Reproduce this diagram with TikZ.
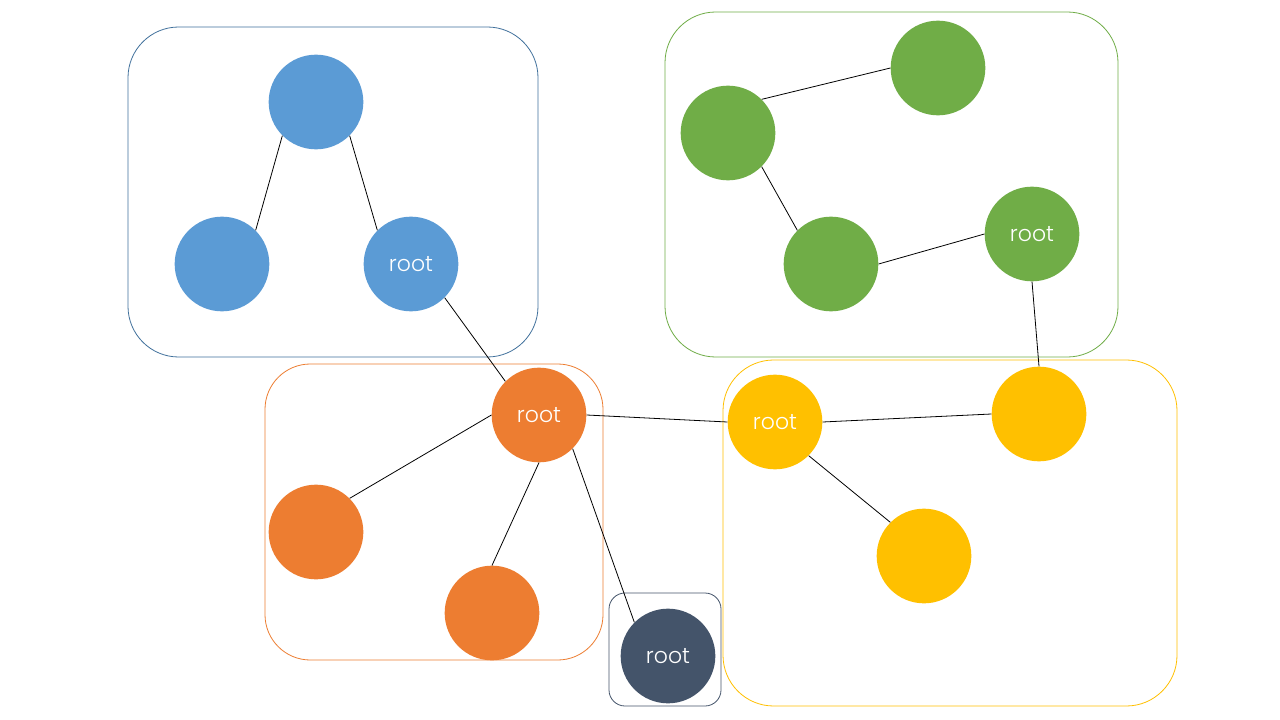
\documentclass[tikz,border=0pt]{standalone}
\usepackage{fontspec}
\setmainfont{Poppins}[UprightFont=* Light]
\definecolor{cblue}{HTML}{5B9BD5}
\definecolor{cbluedark}{HTML}{41719C}
\definecolor{corange}{HTML}{ED7D31}
\definecolor{cgreen}{HTML}{70AD47}
\definecolor{cyellow}{HTML}{FFC000}
\definecolor{cslate}{HTML}{44546A}
\begin{document}
\begin{tikzpicture}[x=0.75pt,y=-0.75pt,
  vert/.style={circle,inner sep=0pt,minimum size=71pt,text=white,
    font=\fontsize{16.5}{19}\selectfont},
  group/.style={draw,line width=0.6pt,rounded corners=#1},
  link/.style={draw=black,line width=0.6pt}]
\useasboundingbox[fill=white] (0,0) rectangle (1280,720);

% group frames
\draw[group=38pt,cbluedark] (128,27) rectangle (538,357);
\draw[group=38pt,cgreen] (665,12) rectangle (1118,357);
\draw[group=34pt,corange] (265,364) rectangle (603,660);
\draw[group=12pt,cslate] (609,593) rectangle (721,706);
\draw[group=38pt,cyellow] (723,360) rectangle (1177,706);

% blue tree
\node[vert,fill=cblue] (b1) at (316,102) {};
\node[vert,fill=cblue] (b2) at (222,264) {};
\node[vert,fill=cblue] (b3) at (411,264) {root};

% green tree
\node[vert,fill=cgreen] (g1) at (938,68) {};
\node[vert,fill=cgreen] (g2) at (728,133) {};
\node[vert,fill=cgreen] (g3) at (831,264) {};
\node[vert,fill=cgreen] (g4) at (1032,234) {root};

% orange tree
\node[vert,fill=corange] (o1) at (539,415) {root};
\node[vert,fill=corange] (o2) at (316,532) {};
\node[vert,fill=corange] (o3) at (492,613) {};

% single slate node
\node[vert,fill=cslate] (s1) at (668,656) {root};

% yellow tree
\node[vert,fill=cyellow] (y1) at (775,422) {root};
\node[vert,fill=cyellow] (y2) at (1039,414) {};
\node[vert,fill=cyellow] (y3) at (924,556) {};

% connectors, joined at the circles' connection points
\draw[link] (b1.south west) -- (b2.north east);
\draw[link] (b1.south east) -- (b3.north west);
\draw[link] (b3.south east) -- (o1.north west);
\draw[link] (o1.west) -- (o2.north east);
\draw[link] (o1.south) -- (o3.north);
\draw[link] (o1.south east) -- (s1.north west);
\draw[link] (o1.east) -- (y1.west);
\draw[link] (y1.east) -- (y2.west);
\draw[link] (y1.south east) -- (y3.north west);
\draw[link] (y2.north) -- (g4.south);
\draw[link] (g4.west) -- (g3.east);
\draw[link] (g3.north west) -- (g2.south east);
\draw[link] (g2.north east) -- (g1.west);
\end{tikzpicture}
\end{document}
